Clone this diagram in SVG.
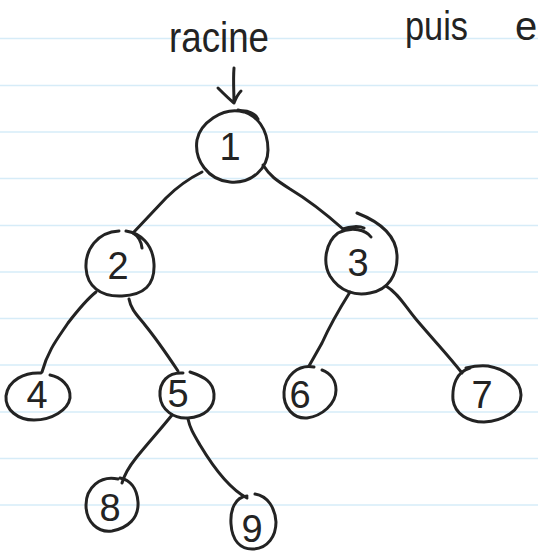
<svg xmlns="http://www.w3.org/2000/svg" width="538" height="552" viewBox="0 0 538 552">
  <style>
    .rule { stroke: #d6ecf8; stroke-width: 1.5; }
    .ink { fill: none; stroke: #232323; stroke-width: 3; stroke-linecap: round; stroke-linejoin: round; }
    .hand { font-family: "Liberation Sans", "DejaVu Sans", sans-serif; fill: #232323; }
    .num { font-family: "Liberation Sans", "DejaVu Sans", sans-serif; fill: #232323; text-anchor: middle; font-size: 38px; }
  </style>
  <rect width="538" height="552" fill="#ffffff"/>

  <!-- ruled paper -->
  <g id="paper">
    <line class="rule" x1="0" y1="38.5" x2="538" y2="38.5"/>
    <line class="rule" x1="0" y1="85.5" x2="538" y2="85.5"/>
    <line class="rule" x1="0" y1="132" x2="538" y2="132"/>
    <line class="rule" x1="0" y1="178.5" x2="538" y2="178.5"/>
    <line class="rule" x1="0" y1="225.5" x2="538" y2="225.5"/>
    <line class="rule" x1="0" y1="272" x2="538" y2="272"/>
    <line class="rule" x1="0" y1="318.5" x2="538" y2="318.5"/>
    <line class="rule" x1="0" y1="365" x2="538" y2="365"/>
    <line class="rule" x1="0" y1="412" x2="538" y2="412"/>
    <line class="rule" x1="0" y1="458.5" x2="538" y2="458.5"/>
    <line class="rule" x1="0" y1="505" x2="538" y2="505"/>
  </g>

  <!-- notes -->
  <g id="notes">
    <text class="hand" x="169" y="52" font-size="42" textLength="100" lengthAdjust="spacingAndGlyphs">racine</text>
    <text class="hand" x="405" y="40" font-size="40" textLength="63" lengthAdjust="spacingAndGlyphs">puis</text>
    <text class="hand" x="515" y="40" font-size="40">e</text>
    <path class="ink" d="M234,68 C233,80 234,92 234,103 M218,88 C224,94 229,99 234,103 C236,98 238,94 241,91"/>
  </g>

  <!-- connectors -->
  <g id="edges">
    <path class="ink" d="M202,172 C190,178 180,184 166,198 L133,233"/>
    <path class="ink" d="M263,165 C270,176 276,180 290,189 C310,201 325,213 343,229"/>
    <path class="ink" d="M96,292 C86,300 78,310 68,323 C58,338 48,350 42,372"/>
    <path class="ink" d="M129,299 C131,310 138,316 145,325 C158,341 168,356 178,371"/>
    <path class="ink" d="M350,292 C340,308 330,325 322,343 L309,366"/>
    <path class="ink" d="M386,286 C398,293 405,306 415,318 C430,336 448,355 462,373"/>
    <path class="ink" d="M172,415 C160,430 148,443 136,458 C128,468 124,476 122,483"/>
    <path class="ink" d="M188,419 C190,428 193,433 200,445 C212,465 228,488 247,498"/>
  </g>

  <!-- tree nodes -->
  <g id="node-1">
    <path class="ink" d="M244,112 C222,106 200,124 197,140 C194,160 208,180 230,182 C252,184 268,168 268,150 C268,130 258,114 238,110 M240,111 C248,110 256,114 258,119"/>
    <text class="num" x="230" y="160">1</text>
  </g>
  <g id="node-2">
    <path class="ink" d="M119,231 C97,232 85,250 86,268 C87,286 100,297 122,296 C144,295 155,285 154,264 C153,244 140,233 126,231 M133,233 C138,236 141,240 142,248"/>
    <text class="num" x="118" y="279" font-size="44">2</text>
  </g>
  <g id="node-3">
    <path class="ink" d="M371,237 C366,230 352,226 338,233 C326,242 322,262 330,276 C340,292 356,296 370,293 C388,290 398,275 397,255 C396,236 380,222 357,213 M343,229 C350,226 360,226 364,228"/>
    <text class="num" x="358" y="276" font-size="42">3</text>
  </g>
  <g id="node-4">
    <path class="ink" d="M41,373 C25,372 8,380 6,396 C5,410 18,420 34,420 C52,420 68,410 70,398 C71,385 60,377 50,375"/>
    <text class="num" x="37" y="408" font-size="40">4</text>
  </g>
  <g id="node-5">
    <path class="ink" d="M183,373 C168,372 159,382 160,396 C161,410 174,419 188,418 C204,417 215,408 214,394 C213,382 205,377 190,372"/>
    <text class="num" x="178" y="407" font-size="36">5</text>
  </g>
  <g id="node-6">
    <path class="ink" d="M314,367 C298,364 285,376 284,392 C283,408 294,419 307,418 C322,416 336,404 336,390 C336,380 330,373 322,370"/>
    <text class="num" x="300" y="408" font-size="36">6</text>
  </g>
  <g id="node-7">
    <path class="ink" d="M470,368 C456,372 452,386 453,400 C455,414 468,422 484,422 C504,421 521,410 521,395 C521,380 505,369 488,366 C478,365 470,367 466,368"/>
    <text class="num" x="482" y="408" font-size="36">7</text>
  </g>
  <g id="node-8">
    <path class="ink" d="M118,479 C100,475 86,488 86,505 C86,522 98,533 112,531 C128,528 139,518 138,502 C137,488 130,480 120,478"/>
    <text class="num" x="110" y="521" font-size="42">8</text>
  </g>
  <g id="node-9">
    <path class="ink" d="M247,496 C235,497 230,510 231,524 C232,540 240,550 254,549 C268,548 276,536 276,522 C275,508 268,496 255,494"/>
    <text class="num" x="252" y="542" font-size="40">9</text>
  </g>
</svg>
